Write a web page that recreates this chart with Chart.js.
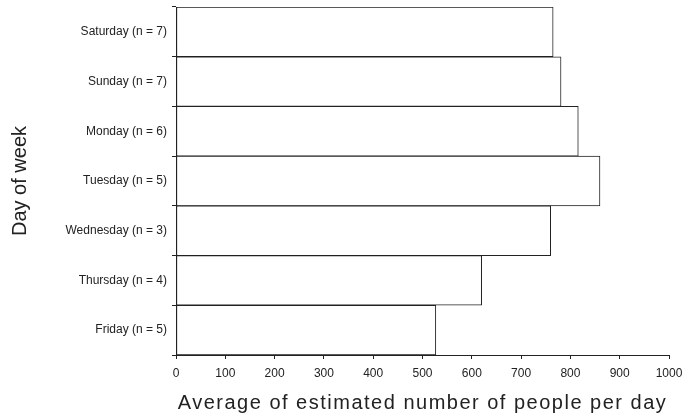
<!DOCTYPE html>
<html>
<head>
<meta charset="utf-8">
<script src="https://cdn.jsdelivr.net/npm/chart.js@4"></script>
<style>
  html, body { margin: 0; padding: 0; background: #fff; }
  #wrap { width: 694px; height: 416px; }
</style>
</head>
<body>
<div id="wrap"><canvas id="dayChart"></canvas></div>
<script>
// Data
const days = ['Saturday (n = 7)', 'Sunday (n = 7)', 'Monday (n = 6)', 'Tuesday (n = 5)',
              'Wednesday (n = 3)', 'Thursday (n = 4)', 'Friday (n = 5)'];
const avgPeople = [765, 781, 816, 860, 760, 620, 527];
const xTicks = [0, 100, 200, 300, 400, 500, 600, 700, 800, 900, 1000];

const textColor = '#222';

// x title in the reference is letter-spaced
const spacedTitle = {
    id: 'spacedTitle',
    afterLayout(chart) {
        const scale = chart.scales.x;
        if (scale._spaced) return;
        const orig = scale.drawTitle;
        scale.drawTitle = function (...args) {
            this.ctx.save();
            this.ctx.letterSpacing = '1.5px';
            orig.apply(this, args);
            this.ctx.restore();
        };
        scale._spaced = true;
    }
};

const ctx = document.getElementById('dayChart').getContext('2d');
new Chart(ctx, {
    type: 'bar',
    data: {
        labels: days,
        datasets: [{
            data: avgPeople,
            backgroundColor: '#fff',
            borderColor: '#222',
            borderWidth: 1,
            borderSkipped: false,
            barPercentage: 1,
            categoryPercentage: 1
        }]
    },
    options: {
        indexAxis: 'y',
        responsive: true,
        maintainAspectRatio: false,
        animation: false,
        layout: { padding: { top: 7, right: 25, bottom: 0, left: 0 } },
        plugins: {
            legend: { display: false },
            tooltip: { enabled: false }
        },
        scales: {
            x: {
                min: 0,
                max: 1000,
                afterBuildTicks: (scale) => { scale.ticks = xTicks.map(v => ({ value: v })); },
                afterFit: (scale) => { scale.height = 61; },
                border: { color: '#222', width: 1 },
                grid: { drawOnChartArea: false, drawTicks: true, tickLength: 4, color: '#222' },
                ticks: {
                    color: textColor,
                    padding: 7,
                    font: { family: 'Liberation Sans', size: 12 },
                    callback: (v) => String(v)
                },
                title: {
                    display: true,
                    text: 'Average of estimated number of people per day',
                    color: textColor,
                    font: { family: 'Liberation Sans', size: 20 },
                    padding: { top: 0, bottom: 1 }
                }
            },
            y: {
                afterFit: (scale) => {
                    scale.width = 176;
                    scale.paddingTop = 0;
                    scale.paddingBottom = 0;
                },
                border: { color: '#222', width: 1 },
                grid: { drawOnChartArea: false, drawTicks: true, tickLength: 4, color: '#222', offset: true },
                ticks: { color: textColor, padding: 5, font: { family: 'Liberation Sans', size: 12 } },
                title: {
                    display: true,
                    text: 'Day of week',
                    color: textColor,
                    font: { family: 'Liberation Sans', size: 20 },
                    padding: { top: 8, bottom: 0 }
                }
            }
        }
    },
    plugins: [spacedTitle]
});
</script>
</body>
</html>
